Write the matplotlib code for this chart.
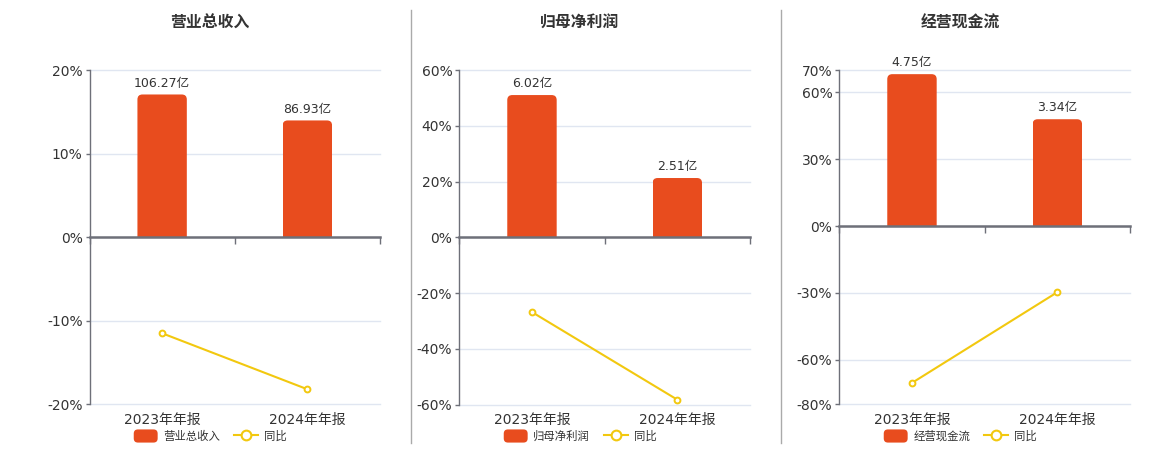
import matplotlib
matplotlib.use("Agg")
import matplotlib.pyplot as plt
from matplotlib.patches import FancyBboxPatch, Rectangle, Patch
from matplotlib.lines import Line2D
from matplotlib.legend_handler import HandlerPatch

plt.rcParams['font.family'] = ['DejaVu Sans', 'Noto Sans CJK SC']

# ---------------- data ----------------
categories = ['2023年年报', '2024年年报']
titles = ['营业总收入', '归母净利润', '经营现金流']
bar_values_1 = [106.27, 86.93]
bar_values_2 = [6.02, 2.51]
bar_values_3 = [4.75, 3.34]
yoy_values_1 = [-11.5, -18.2]
yoy_values_2 = [-26.8, -58.2]
yoy_values_3 = [-70.4, -29.7]
yticks_1 = [-20, -10, 0, 10, 20]
yticks_2 = [-60, -40, -20, 0, 20, 40, 60]
yticks_3 = [-80, -60, -30, 0, 30, 60, 70]
unit = '亿'
yoy_label = '同比'

# ---------------- layout / style ----------------
W, H = 1160, 450
panels = [
    dict(title=titles[0], bars=bar_values_1, yoy=yoy_values_1, yticks=yticks_1,
         rect_px=(89.5, 70, 380, 404.3), bar_max=124.5, center=210),
    dict(title=titles[1], bars=bar_values_2, yoy=yoy_values_2, yticks=yticks_2,
         rect_px=(459.3, 70, 750, 404.7), bar_max=7.08, center=580),
    dict(title=titles[2], bars=bar_values_3, yoy=yoy_values_3, yticks=yticks_3,
         rect_px=(839.3, 70, 1130, 404.3), bar_max=4.88, center=960),
]
BAR_COLOR = '#E84C1E'
LINE_COLOR = '#F2C80F'
AXIS_COLOR = '#6E7079'
GRID_COLOR = '#E0E6F1'
TEXT_COLOR = '#333333'

fig = plt.figure(figsize=(W / 100, H / 100), dpi=100)
fig.patch.set_facecolor('white')


def round_patch(legend, orig_handle, xdescent, ydescent, width, height, fontsize):
    return FancyBboxPatch((-xdescent, -ydescent), width, height,
                          boxstyle="round,pad=0,rounding_size=3")


x = list(range(len(categories)))

for p in panels:
    x0, y0, x1, y1 = p['rect_px']
    rect = [x0 / W, 1 - y1 / H, (x1 - x0) / W, (y1 - y0) / H]
    ax = fig.add_axes(rect)
    ax.set_zorder(0)
    ymin, ymax = min(p['yticks']), max(p['yticks'])
    ax.set_ylim(ymin, ymax)
    ax.set_xlim(-0.5, len(categories) - 0.5)
    ax.set_yticks(p['yticks'])
    ax.set_yticklabels([f"{t}%" for t in p['yticks']])
    ax.yaxis.grid(True, color=GRID_COLOR, lw=1)
    for gl in ax.get_ygridlines():
        gl.set_clip_on(False)
    ax.set_axisbelow(True)
    for s in ['top', 'right', 'bottom']:
        ax.spines[s].set_visible(False)
    ax.spines['left'].set_color(AXIS_COLOR)
    ax.spines['left'].set_linewidth(1)
    ax.tick_params(axis='y', length=3, width=1, color=AXIS_COLOR,
                   labelsize=10, labelcolor=TEXT_COLOR, pad=2)
    ax.xaxis.set_visible(False)

    ax2 = ax.twinx()
    ax2.set_zorder(1)
    ax2.patch.set_visible(False)
    ax2.xaxis.set_visible(True)
    ax2.yaxis.set_visible(False)
    for s in ['top', 'right', 'left']:
        ax2.spines[s].set_visible(False)
    bmax = p['bar_max']
    bmin = bmax * ymin / ymax
    ax2.set_ylim(bmin, bmax)
    ax2.set_xlim(-0.5, len(categories) - 0.5)

    bars = ax2.bar(x, p['bars'], width=0.34, color=BAR_COLOR, zorder=2)
    # replace with rounded-top bars
    p0 = ax2.transData.transform((0, 0))
    p1 = ax2.transData.transform((1, 1))
    sx, sy = p1[0] - p0[0], p1[1] - p0[1]
    r_px = 5
    for b in bars:
        b.set_visible(False)
        bx, bw, bh = b.get_x(), b.get_width(), b.get_height()
        ext = 10 / sy
        fb = FancyBboxPatch((bx, -ext), bw, bh + ext,
                            boxstyle=f"round,pad=0,rounding_size={r_px / sx}",
                            mutation_aspect=sx / sy,
                            facecolor=BAR_COLOR, edgecolor='none', zorder=2)
        ax2.add_patch(fb)
        clip = Rectangle((bx, 0), bw, bmax * 2, transform=ax2.transData)
        fb.set_clip_path(clip)

    for xi, v in zip(x, p['bars']):
        ax2.annotate(f"{v:.2f}{unit}", (xi, v), xytext=(0, 3.5),
                     textcoords='offset points', ha='center', va='bottom',
                     fontsize=9, color=TEXT_COLOR, zorder=4)

    ax2.plot(x, p['yoy'], color=LINE_COLOR, lw=1.5, marker='o', ms=4.2,
             mfc='white', mec=LINE_COLOR, mew=1.4, transform=ax.transData, zorder=5)

    ax2.spines['bottom'].set_position(('data', 0))
    ax2.spines['bottom'].set_color(AXIS_COLOR)
    ax2.spines['bottom'].set_linewidth(1.8)
    ax2.spines['bottom'].set_zorder(3)
    ax2.set_xticks([])
    ax2.set_xticks([-0.5, 0.5, 1.5], minor=True)
    ax2.tick_params(axis='x', which='minor', length=5, width=1, color=AXIS_COLOR,
                    direction='out')

    sec = ax2.secondary_xaxis(0)
    sec.set_xticks(x)
    sec.set_xticklabels(categories)
    sec.tick_params(axis='x', length=0, labelsize=10, labelcolor=TEXT_COLOR, pad=6)
    sec.spines['bottom'].set_visible(False)

    fig.text(p['center'] / W, 1 - 23 / H, p['title'], ha='center', va='center',
             fontsize=11.4, fontweight='bold', color=TEXT_COLOR)

    handles = [Patch(facecolor=BAR_COLOR, edgecolor='none'),
               Line2D([0], [0], color=LINE_COLOR, lw=1.5, marker='o', ms=7,
                      mfc='white', mec=LINE_COLOR, mew=1.5)]
    fig.legend(handles, [p['title'], yoy_label], loc='center',
               bbox_to_anchor=(p['center'] / W, 1 - 436 / H), ncol=2,
               frameon=False, fontsize=8.2, labelcolor=TEXT_COLOR,
               handlelength=2.1, handleheight=1.4, handletextpad=0.5,
               columnspacing=1.2,
               handler_map={Patch: HandlerPatch(patch_func=round_patch)})

for xs in [410.5, 780.5]:
    fig.add_artist(Line2D([xs / W, xs / W], [1 - 10 / H, 1 - 443 / H],
                          color='#AAAAAA', lw=1))

fig.savefig('out.png', dpi=100, facecolor='white')
